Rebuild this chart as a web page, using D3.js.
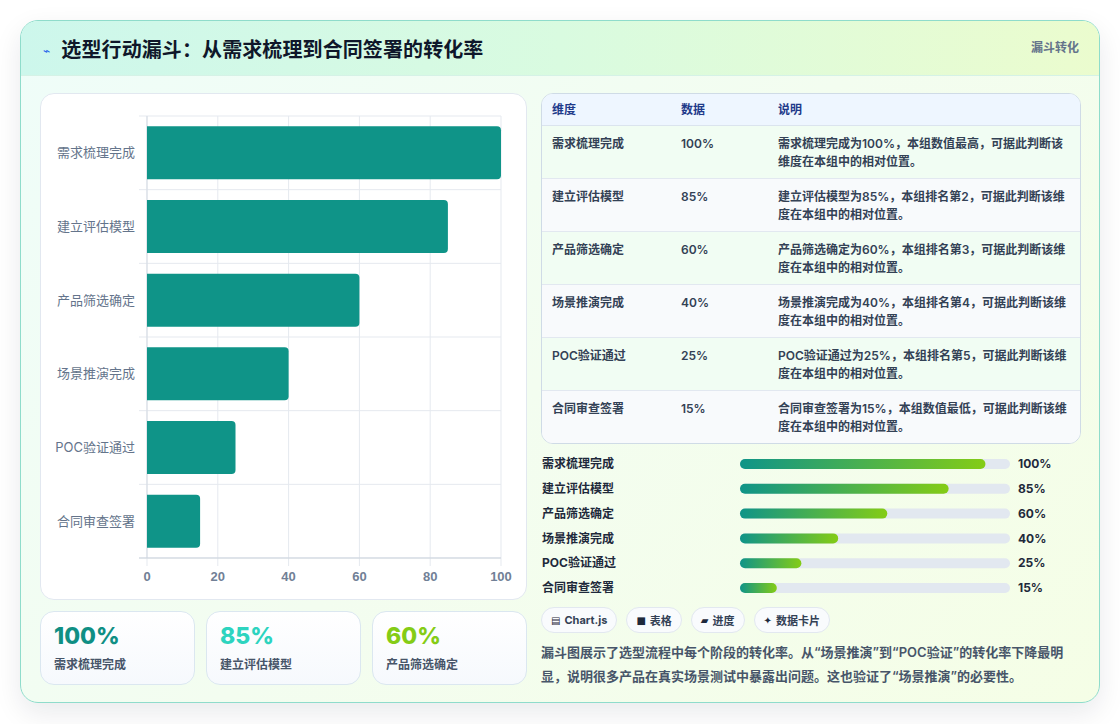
<!DOCTYPE html>
<html lang="zh-CN">
<head>
<meta charset="utf-8">
<script src="https://cdn.jsdelivr.net/npm/d3@7"></script>
<style>
  html, body { margin:0; padding:0; width:1120px; height:724px; background:#ffffff; overflow:hidden;
    font-family: "Inter", "Noto Sans CJK SC", "Noto Sans", sans-serif; }
  .card { position:absolute; left:20px; top:20px; width:1078px; height:681px; border:1px solid #8fdccb;
    border-radius:18px; overflow:hidden; background:linear-gradient(135deg,#effdf9 0%,#f3fdf0 50%,#f5fee6 100%);
    box-shadow:0 10px 28px rgba(15,23,42,0.09); }
  .header { position:absolute; left:0; top:0; width:100%; height:54px; border-bottom:1px solid #d5f2e6;
    background:linear-gradient(90deg,#cdf7ec 0%,#d9fbe0 50%,#ebfcce 100%); }
  .title { position:absolute; left:22px; top:13px; font-size:20px; font-weight:700; color:#0f172a; letter-spacing:0.1px; }
  .title .ic { color:#2563eb; font-size:12px; font-weight:400; margin-right:11px; font-family:"DejaVu Sans"; position:relative; top:-2px; }
  .tag { position:absolute; right:20px; top:17px; font-size:12px; font-weight:700; color:#64748b; }
  .chartbox { position:absolute; left:19px; top:72px; width:485px; height:505px; background:#fff;
    border:1px solid #e2e8f0; border-radius:14px; }
  .stat { position:absolute; top:590px; width:153px; height:72px; border:1px solid #dbe7f0; border-radius:14px;
    background:linear-gradient(180deg,#ffffff,#f6f9fd); }
  .stat .v { position:absolute; left:13px; top:10px; font-size:23px; font-weight:800; }
  .stat .l { position:absolute; left:13px; top:43px; font-size:12px; font-weight:600; color:#475569; }
  .tablebox { position:absolute; left:520px; top:72px; width:538px; height:349px; border:1px solid #cfdbe6;
    border-radius:12px; overflow:hidden; background:#fff; }
  table { border-collapse:collapse; width:100%; font-size:12px; }
  th { height:31px; box-sizing:border-box; text-align:left; font-weight:700; color:#1e3a8a; background:#eef6ff; padding:0 0 1px 10px;
    border-bottom:1px solid #dbe4ee; }
  td { height:53px; vertical-align:top; padding:9px 0 0 10px; color:#334155; font-weight:600; line-height:18px;
    border-bottom:1px solid #e2e8f0; box-sizing:border-box; }
  tr:last-child td { border-bottom:none; }
  tr.g td { background:#f1fdf3; }
  tr.s td { background:#f8fafc; }
  .progress { position:absolute; left:520px; top:430px; }
  .chips { position:absolute; left:520px; top:586px; display:flex; gap:9px; }
  .chip { height:26px; box-sizing:border-box; border:1px solid #e2e8f0; border-radius:13px; background:#f9fbfd;
    font-size:11px; font-weight:700; color:#334155; display:flex; align-items:center; padding:0 9px; }
  .chip .i { font-family:"DejaVu Sans"; font-size:10px; margin-right:4px; color:#1e293b; }
  .desc { position:absolute; left:520px; top:619px; width:545px; font-size:13px; font-weight:600; color:#475569;
    line-height:24px; white-space:nowrap; }
</style>
</head>
<body>
<div class="card" id="card">
  <div class="header">
    <div class="title"><span class="ic">⌁</span>选型行动漏斗：从需求梳理到合同签署的转化率</div>
    <div class="tag">漏斗转化</div>
  </div>
  <div class="chartbox"><svg id="chart" width="485" height="505"></svg></div>
  <div id="stats"></div>
  <div class="tablebox"><table id="tbl"></table></div>
  <svg class="progress" id="prog" width="560" height="160"></svg>
  <div class="chips" id="chips"></div>
  <div class="desc" id="desc"></div>
</div>
<script>
// ---------- data ----------
const categories = ["需求梳理完成", "建立评估模型", "产品筛选确定", "场景推演完成", "POC验证通过", "合同审查签署"];
const values = [100, 85, 60, 40, 25, 15];
const xTicks = [0, 20, 40, 60, 80, 100];
const notes = [
  "需求梳理完成为100%，本组数值最高，可据此判断该维度在本组中的相对位置。",
  "建立评估模型为85%，本组排名第2，可据此判断该维度在本组中的相对位置。",
  "产品筛选确定为60%，本组排名第3，可据此判断该维度在本组中的相对位置。",
  "场景推演完成为40%，本组排名第4，可据此判断该维度在本组中的相对位置。",
  "POC验证通过为25%，本组排名第5，可据此判断该维度在本组中的相对位置。",
  "合同审查签署为15%，本组数值最低，可据此判断该维度在本组中的相对位置。"
];
const tableHeaders = ["维度", "数据", "说明"];
const statColors = ["#0f8f84", "#2dd4bf", "#84cc16"];
const chipIcons = ["▤", "■", "▰", "✦"];
const chipLabels = ["Chart.js", "表格", "进度", "数据卡片"];
const descLines = [
  "漏斗图展示了选型流程中每个阶段的转化率。从“场景推演”到“POC验证”的转化率下降最明",
  "显，说明很多产品在真实场景测试中暴露出问题。这也验证了“场景推演”的必要性。"
];

// ---------- bar chart ----------
const svg = d3.select("#chart");
const m = { left: 106, right: 25, top: 22, bottom: 41 };
const W = 485, H = 505;
const x = d3.scaleLinear().domain([0, 100]).range([m.left, W - m.right]);
const y = d3.scaleBand().domain(categories).range([m.top, H - m.bottom]).paddingInner(0).paddingOuter(0);
const grid = "#e5e9ef";
svg.append("g").selectAll("line").data(xTicks).join("line")
  .attr("x1", d => x(d)).attr("x2", d => x(d))
  .attr("y1", m.top).attr("y2", H - m.bottom + 8)
  .attr("stroke", grid).attr("stroke-width", 1);
const bounds = categories.map(c => y(c)).concat([y.range()[1]]);
svg.append("g").selectAll("line").data(bounds).join("line")
  .attr("x1", m.left - 8).attr("x2", x(100))
  .attr("y1", d => d).attr("y2", d => d)
  .attr("stroke", grid).attr("stroke-width", 1);
svg.append("line").attr("x1", x(0)).attr("x2", x(0)).attr("y1", m.top).attr("y2", H - m.bottom)
  .attr("stroke", "#d5dbe3");
svg.append("line").attr("x1", m.left - 8).attr("x2", x(100)).attr("y1", H - m.bottom).attr("y2", H - m.bottom)
  .attr("stroke", "#cbd3dc");
const bh = y.bandwidth() * 0.72;
const rr = 4;
svg.append("g").selectAll("path").data(values).join("path")
  .attr("fill", "#0f9488")
  .attr("d", (v, i) => {
    const x0 = x(0), x1 = x(v), yt = y(categories[i]) + (y.bandwidth() - bh) / 2, yb = yt + bh;
    return `M${x0},${yt}H${x1 - rr}Q${x1},${yt} ${x1},${yt + rr}V${yb - rr}Q${x1},${yb} ${x1 - rr},${yb}H${x0}Z`;
  });
svg.append("g").selectAll("text").data(xTicks).join("text")
  .attr("x", d => x(d)).attr("y", H - m.bottom + 23)
  .attr("text-anchor", "middle").attr("font-family", "Liberation Sans, Arial, sans-serif")
  .attr("font-size", 13).attr("font-weight", 700).attr("fill", "#718096")
  .text(d => d);
svg.append("g").selectAll("text").data(categories).join("text")
  .attr("x", m.left - 12).attr("y", d => y(d) + y.bandwidth() / 2)
  .attr("dy", "0.35em").attr("text-anchor", "end")
  .attr("font-size", 13).attr("fill", "#64748b")
  .text(d => d);

// ---------- stat cards ----------
d3.select("#stats").selectAll("div.stat").data(values.slice(0, 3)).join("div")
  .attr("class", "stat").style("left", (d, i) => (19 + i * 166) + "px")
  .html((d, i) => `<div class="v" style="color:${statColors[i]}">${d}%</div><div class="l">${categories[i]}</div>`);

// ---------- table ----------
const tbl = d3.select("#tbl");
tbl.append("colgroup").selectAll("col").data([129, 97, 312]).join("col").attr("width", d => d);
tbl.append("thead").append("tr").selectAll("th").data(tableHeaders).join("th").text(d => d);
const rows = tbl.append("tbody").selectAll("tr").data(categories).join("tr")
  .attr("class", (d, i) => i % 2 === 0 ? "g" : "s");
rows.append("td").text(d => d);
rows.append("td").text((d, i) => values[i] + "%");
rows.append("td").style("padding-right", "10px").text((d, i) => notes[i]);

// ---------- progress bars ----------
const prog = d3.select("#prog");
const defs = prog.append("defs");
values.forEach((v, i) => {
  const g = defs.append("linearGradient").attr("id", "pg" + i).attr("x1", "0%").attr("x2", "100%");
  g.append("stop").attr("offset", "0%").attr("stop-color", "#0f9488");
  g.append("stop").attr("offset", "100%").attr("stop-color", "#84cc16");
});
const px = d3.scaleLinear().domain([0, 110]).range([199, 469]);
const py = d3.scalePoint().domain(categories).range([13, 137]);
const pr = prog.selectAll("g").data(categories).join("g").attr("transform", d => `translate(0,${py(d)})`);
pr.append("text").attr("x", 1).attr("dy", "0.35em").attr("font-size", 12).attr("font-weight", 700)
  .attr("fill", "#1e293b").text(d => d);
pr.append("rect").attr("x", px(0)).attr("y", -5).attr("height", 10).attr("rx", 5)
  .attr("width", px(110) - px(0)).attr("fill", "#e2e8f0");
pr.append("rect").attr("x", px(0)).attr("y", -5).attr("height", 10).attr("rx", 5)
  .attr("width", (d, i) => px(values[i]) - px(0)).attr("fill", (d, i) => `url(#pg${i})`);
pr.append("text").attr("x", px(110) + 8).attr("dy", "0.35em").attr("font-size", 12).attr("font-weight", 700)
  .attr("fill", "#1e293b").text((d, i) => values[i] + "%");

// ---------- chips ----------
d3.select("#chips").selectAll("div").data(chipLabels).join("div").attr("class", "chip")
  .html((d, i) => `<span class="i">${chipIcons[i]}</span>${d}`);

// ---------- description ----------
d3.select("#desc").selectAll("div").data(descLines).join("div").text(d => d);
</script>
</body>
</html>
